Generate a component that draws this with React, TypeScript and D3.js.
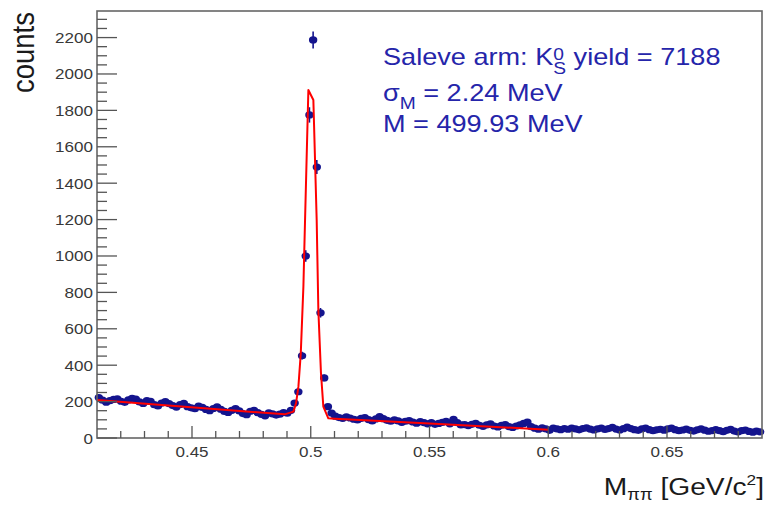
import { useEffect, useRef } from 'react';
import * as d3 from 'd3';

const W = 766;
const H = 505;

// histogram: 180 bins between 0.41 and 0.69 GeV/c^2
const X_MIN = 0.41;
const X_MAX = 0.69;
const N_BINS = 180;

const sideBandLow = [
  222, 208, 197, 205, 212, 215, 202, 196, 209, 218,
  214, 198, 190, 205, 201, 183, 176, 192, 200, 189,
  178, 170, 184, 190, 172, 166, 161, 175, 168, 157,
  150, 162, 171, 158, 146, 140, 152, 161, 149, 134,
  128, 147, 152, 139, 130, 122, 138, 133, 126, 131,
  140, 136, 152,
];
const peakBins = [192, 254, 452, 1000, 1775, 2187, 1489, 688, 330, 172, 137];
const sideBandHigh = [
  120, 112, 108, 116, 110, 103, 99, 108, 112, 101,
  94, 105, 118, 106, 97, 92, 100, 94, 86, 92,
  96, 88, 81, 90, 85, 78,
  84, 75, 80, 86, 92, 78, 103, 84, 72, 74,
  68, 75, 81, 70, 64, 72, 78, 66, 61, 70,
  74, 63, 58, 66, 72, 80, 88, 62, 54, 48,
  56, 50,
  42, 55, 50, 46, 52, 48, 54, 50, 45, 52,
  56, 49, 44, 50, 55, 47, 52, 58, 49, 44,
  51, 60, 52, 46, 42, 50, 55, 46, 40, 45,
  48, 43, 50, 54, 46, 40, 44, 49, 42, 38,
  45, 50, 43, 37, 41, 46, 40, 35, 42, 47,
  38, 33, 40, 44, 36, 32, 38, 34,
];
const counts = [...sideBandLow, ...peakBins, ...sideBandHigh];

// fitted curve (gaussian + background), fit range 0.41-0.6
const fitMass = [
  0.41, 0.489, 0.4927, 0.4938, 0.4948, 0.4958, 0.4969, 0.4976, 0.499,
  0.5011, 0.5025, 0.5032, 0.5043, 0.5053, 0.5074, 0.5102, 0.55, 0.6,
];
const fitCounts = [
  209, 130, 145, 190, 282, 465, 831, 1198, 1912,
  1857, 1198, 703, 357, 172, 108, 106, 80, 46,
];

const yMajor = [0, 200, 400, 600, 800, 1000, 1200, 1400, 1600, 1800, 2000, 2200];
const xMajor = [0.45, 0.5, 0.55, 0.6, 0.65];
const xLabels = ['0.45', '0.5', '0.55', '0.6', '0.65'];

const FONT = '"Liberation Sans", Arial, Helvetica, sans-serif';
const BLUE = '#2525aa';
const MARKER = '#14148e';

const App = () => {
  const svgRef = useRef<SVGSVGElement | null>(null);

  useEffect(() => {
    if (!svgRef.current) return;
    const margin = { top: 11, right: 4, bottom: 67, left: 97 };
    const svg = d3.select(svgRef.current);
    svg.selectAll('*').remove();

    const x = d3.scaleLinear().domain([X_MIN, X_MAX]).range([margin.left, W - margin.right]);
    const y = d3.scaleLinear().domain([0, 2346]).range([H - margin.bottom, margin.top]);
    const binW = (X_MAX - X_MIN) / N_BINS;
    const pts = counts.map((c, i) => ({ m: X_MIN + (i + 0.5) * binW, c }));

    const x0 = x.range()[0], x1 = x.range()[1];
    const y0 = y.range()[0], y1 = y.range()[1];

    // error bars + markers
    const g = svg.append('g');
    g.selectAll('line.err')
      .data(pts)
      .join('line')
      .attr('x1', d => x(d.m))
      .attr('x2', d => x(d.m))
      .attr('y1', d => y(d.c - Math.sqrt(d.c)))
      .attr('y2', d => y(d.c + Math.sqrt(d.c)))
      .attr('stroke', MARKER)
      .attr('stroke-width', 1.6);
    g.selectAll('ellipse')
      .data(pts)
      .join('ellipse')
      .attr('cx', d => x(d.m))
      .attr('cy', d => y(d.c))
      .attr('rx', 4.2)
      .attr('ry', 3.6)
      .attr('fill', MARKER);

    // fit
    const line = d3.line<number>()
      .x((_, i) => x(fitMass[i]))
      .y(d => y(d));
    svg.append('path')
      .datum(fitCounts)
      .attr('fill', 'none')
      .attr('stroke', '#f00')
      .attr('stroke-width', 2)
      .attr('stroke-linejoin', 'round')
      .attr('d', line);

    // frame
    svg.append('rect')
      .attr('x', x0).attr('y', y1)
      .attr('width', x1 - x0).attr('height', y0 - y1)
      .attr('fill', 'none')
      .attr('stroke', '#666')
      .attr('stroke-width', 1.6);

    const axis = svg.append('g').attr('stroke', '#555').attr('stroke-width', 1.3);
    // y ticks every 50, labelled every 200
    d3.range(0, 2346, 50).forEach(v => {
      const len = v % 200 === 0 ? 20 : 10;
      axis.append('line').attr('x1', x0).attr('x2', x0 + len).attr('y1', y(v)).attr('y2', y(v));
    });
    // x ticks every 0.01
    d3.range(42, 69).forEach(k => {
      const v = k / 100;
      const len = k % 5 === 0 ? 12 : 7;
      axis.append('line').attr('x1', x(v)).attr('x2', x(v)).attr('y1', y0).attr('y2', y0 - len);
    });

    const labels = svg.append('g').attr('font-family', FONT).attr('fill', '#383838');
    yMajor.forEach(v => {
      labels.append('text')
        .attr('transform', `translate(${x0 - 4},${y(v) + 5.5}) scale(1.1,1)`)
        .attr('text-anchor', 'end')
        .attr('font-size', 15.5)
        .text(v);
    });
    xMajor.forEach((v, i) => {
      labels.append('text')
        .attr('transform', `translate(${x(v)},${y0 + 19}) scale(1.1,1)`)
        .attr('text-anchor', 'middle')
        .attr('font-size', 15.5)
        .text(xLabels[i]);
    });

    // axis titles
    svg.append('text')
      .attr('transform', `translate(34,${y1 + 1}) scale(1.12,1) rotate(-90)`)
      .attr('text-anchor', 'end')
      .attr('font-family', FONT)
      .attr('font-size', 27.5)
      .attr('fill', '#1a1a1a')
      .text('counts');

    const xt = svg.append('text')
      .attr('transform', `translate(764,495) scale(1.15,1)`)
      .attr('text-anchor', 'end')
      .attr('font-family', FONT)
      .attr('font-size', 24.5)
      .attr('fill', '#1a1a1a');
    xt.append('tspan').text('M');
    xt.append('tspan').attr('font-size', 16).attr('dy', 5).text('ππ');
    xt.append('tspan').attr('dy', -5).text(' [GeV/c');
    xt.append('tspan').attr('font-size', 15).attr('dy', -10).text('2');
    xt.append('tspan').attr('dy', 10).text(']');

    // fit results
    const info = svg.append('g').attr('font-family', FONT).attr('fill', BLUE);
    const l1 = info.append('text')
      .attr('transform', 'translate(383,65) scale(1.13,1)')
      .attr('font-size', 24);
    l1.append('tspan').text('Saleve arm: K');
    l1.append('tspan').attr('font-size', 17).attr('dy', -5).text('0');
    l1.append('tspan').attr('font-size', 17).attr('dx', -9.45).attr('dy', 14).text('S');
    l1.append('tspan').attr('dy', -9).text(' yield = 7188');

    const l2 = info.append('text')
      .attr('transform', 'translate(383,101) scale(1.13,1)')
      .attr('font-size', 24);
    l2.append('tspan').text('σ');
    l2.append('tspan').attr('font-size', 17).attr('dy', 8).text('M');
    l2.append('tspan').attr('dy', -8).text(' = 2.24 MeV');

    info.append('text')
      .attr('transform', 'translate(383,132) scale(1.13,1)')
      .attr('font-size', 24)
      .text('M = 499.93 MeV');

    return () => { svg.selectAll('*').remove(); };
  }, []);

  return (
    <svg
      ref={svgRef}
      width={W}
      height={H}
      viewBox={`0 0 ${W} ${H}`}
      style={{ position: 'absolute', left: 0, top: 0, background: '#fff' }}
    />
  );
};

export default App;
